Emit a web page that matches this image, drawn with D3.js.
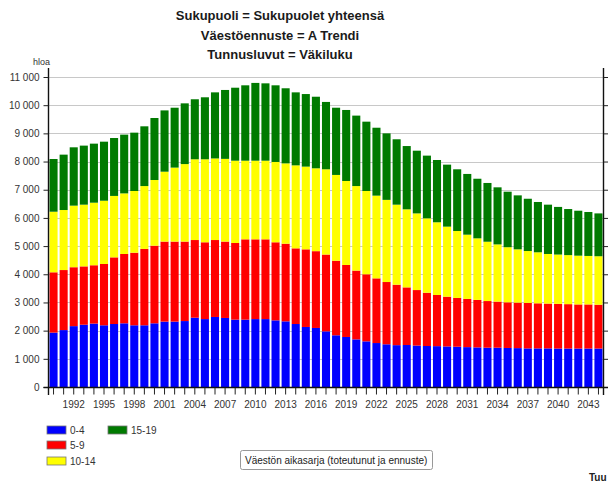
<!DOCTYPE html>
<html>
<head>
<meta charset="utf-8">
<script src="https://cdn.jsdelivr.net/npm/d3@7"></script>
<style>
  body { margin: 0; background: #fff; }
  svg text { font-family: "Liberation Sans", Arial, sans-serif; }
  .title { font-size: 13px; font-weight: bold; fill: #1a1a1a; }
  .tick-label { font-size: 10px; fill: #333; }
  .legend-label { font-size: 10px; fill: #333; }
</style>
</head>
<body>
<div id="chart"></div>
<script>
// age groups, bottom to top
var groups = ["0-4", "5-9", "10-14", "15-19"];
var colors = ["#0000ff", "#ff0000", "#ffff00", "#007a00"];

var years = d3.range(1990, 2045);

var age0_4 = [1930, 2020, 2160, 2210, 2250, 2190, 2235, 2260, 2190, 2190,
  2260, 2320, 2320, 2340, 2460, 2410, 2485, 2450, 2390, 2390,
  2410, 2410, 2365, 2330, 2235, 2130, 2095, 1975, 1835, 1775,
  1690, 1620, 1560, 1515, 1485, 1490, 1470, 1455, 1450, 1440,
  1430, 1415, 1405, 1395, 1395, 1385, 1380, 1370, 1370, 1370,
  1365, 1365, 1365, 1365, 1365];

var age5_9 = [2140, 2130, 2090, 2070, 2070, 2175, 2365, 2460, 2575, 2710,
  2755, 2840, 2840, 2820, 2755, 2725, 2730, 2710, 2720, 2850,
  2830, 2830, 2770, 2755, 2685, 2755, 2725, 2725, 2645, 2555,
  2440, 2380, 2295, 2210, 2145, 2045, 1970, 1890, 1815, 1765,
  1730, 1710, 1685, 1655, 1635, 1620, 1615, 1615, 1600, 1590,
  1585, 1575, 1565, 1565, 1555];

var age10_14 = [2150, 2130, 2185, 2190, 2220, 2245, 2180, 2150, 2190, 2230,
  2330, 2480, 2625, 2750, 2865, 2945, 2895, 2935, 2920, 2790,
  2790, 2790, 2850, 2850, 2945, 2935, 2940, 3025, 3045, 2980,
  3000, 2955, 2935, 2915, 2840, 2770, 2720, 2640, 2580, 2485,
  2375, 2280, 2185, 2105, 2030, 1955, 1890, 1840, 1810, 1760,
  1750, 1740, 1730, 1720, 1720];

var age15_19 = [1870, 1965, 2070, 2095, 2095, 2095, 2055, 2085, 2070, 2120,
  2200, 2175, 2125, 2155, 2130, 2200, 2345, 2445, 2590, 2675,
  2760, 2745, 2720, 2665, 2590, 2575, 2540, 2390, 2385, 2520,
  2500, 2460, 2410, 2360, 2320, 2245, 2225, 2225, 2210, 2200,
  2190, 2155, 2115, 2085, 2025, 1970, 1915, 1855, 1785, 1750,
  1690, 1635, 1595, 1560, 1520];

var yTicks = d3.range(0, 11001, 1000);
var xLabelYears = d3.range(1992, 2044, 3);

var titles = ["Sukupuoli = Sukupuolet yhteensä", "Väestöennuste = A Trendi", "Tunnusluvut = Väkiluku"];

var width = 608, height = 485;
var plot = {left: 48.5, right: 603.5, top: 68, bottom: 387};

var svg = d3.select("#chart").append("svg")
    .attr("width", width)
    .attr("height", height);

var table = years.map(function(y, i) {
    return {year: y, "0-4": age0_4[i], "5-9": age5_9[i], "10-14": age10_14[i], "15-19": age15_19[i]};
});
var stacked = d3.stack().keys(groups)(table);

var x = d3.scaleBand()
    .domain(years)
    .range([plot.left, plot.right])
    .paddingInner(0.2)
    .paddingOuter(0.1);

var y = d3.scaleLinear()
    .domain([0, 11000])
    .range([plot.bottom, 77]);

// titles
svg.selectAll(".title")
    .data(titles)
    .enter().append("text")
    .attr("class", "title")
    .attr("x", 280)
    .attr("y", function(d, i) { return 20 + i * 19.5; })
    .attr("text-anchor", "middle")
    .text(function(d) { return d; });

svg.append("text")
    .attr("x", 33)
    .attr("y", 65)
    .attr("font-size", "9px")
    .attr("fill", "#333")
    .text("hloa");

// gridlines
svg.append("g")
    .selectAll("line")
    .data(yTicks.slice(1))
    .enter().append("line")
    .attr("x1", plot.left)
    .attr("x2", plot.right)
    .attr("y1", function(d) { return Math.round(y(d)) + 0.5; })
    .attr("y2", function(d) { return Math.round(y(d)) + 0.5; })
    .attr("stroke", "#c8c8c8")
    .attr("stroke-width", 1);

// bars
svg.append("g")
    .selectAll("g")
    .data(stacked)
    .enter().append("g")
    .attr("fill", function(d, i) { return colors[i]; })
    .selectAll("rect")
    .data(function(d) { return d; })
    .enter().append("rect")
    .attr("x", function(d) { return x(d.data.year); })
    .attr("width", x.bandwidth())
    .attr("y", function(d) { return y(d[1]); })
    .attr("height", function(d) { return y(d[0]) - y(d[1]); });

// left axis
var yAxisL = d3.axisLeft(y).tickValues(yTicks).tickSize(5).tickPadding(4)
    .tickFormat(function(d) { return d3.format(",")(d).replace(",", " "); });
var gL = svg.append("g")
    .attr("transform", "translate(" + plot.left + ",0)")
    .call(yAxisL);
gL.select(".domain").attr("d", "M0," + plot.top + "V395");
gL.selectAll("text").attr("class", "tick-label").attr("font-size", null).attr("font-family", null);

// right axis
var yAxisR = d3.axisRight(y).tickValues(yTicks).tickSize(5).tickFormat("");
var gR = svg.append("g")
    .attr("transform", "translate(" + plot.right + ",0)")
    .call(yAxisR);
gR.select(".domain").attr("d", "M0," + plot.top + "V395");

// x axis
var xAxis = d3.axisBottom(x).tickSize(7).tickPadding(6)
    .tickFormat(function(d) { return xLabelYears.indexOf(d) >= 0 ? d : ""; });
var gX = svg.append("g")
    .attr("transform", "translate(0," + (plot.bottom + 0.5) + ")")
    .call(xAxis);
gX.select(".domain").attr("d", "M" + (plot.left - 5) + ",0H" + (plot.right + 5));
gX.selectAll("text").attr("class", "tick-label").attr("font-size", null).attr("font-family", null);

svg.selectAll(".domain").attr("stroke", "#111").attr("stroke-width", 1.4);
svg.selectAll(".tick line").attr("stroke", "#222");

// legend
var legendPos = [[47, 426], [47, 441], [47, 457], [108, 426]];
var legend = svg.append("g")
    .selectAll("g")
    .data(groups)
    .enter().append("g")
    .attr("transform", function(d, i) { return "translate(" + legendPos[i][0] + "," + legendPos[i][1] + ")"; });
legend.append("rect")
    .attr("width", 19)
    .attr("height", 8)
    .attr("fill", function(d, i) { return colors[i]; })
    .attr("stroke", "#777")
    .attr("stroke-width", 0.8);
legend.append("text")
    .attr("class", "legend-label")
    .attr("x", 23)
    .attr("y", 8)
    .text(function(d) { return d; });

// button-like box
svg.append("rect")
    .attr("x", 240.5)
    .attr("y", 450.5)
    .attr("width", 192)
    .attr("height", 19)
    .attr("rx", 2)
    .attr("fill", "#fff")
    .attr("stroke", "#999");
svg.append("text")
    .attr("x", 245)
    .attr("y", 464)
    .attr("font-size", "10px")
    .attr("fill", "#222")
    .text("Väestön aikasarja (toteutunut ja ennuste)");

svg.append("text")
    .attr("x", 589)
    .attr("y", 481)
    .attr("font-size", "10px")
    .attr("font-weight", "bold")
    .attr("fill", "#222")
    .text("Tuu");
</script>
</body>
</html>
